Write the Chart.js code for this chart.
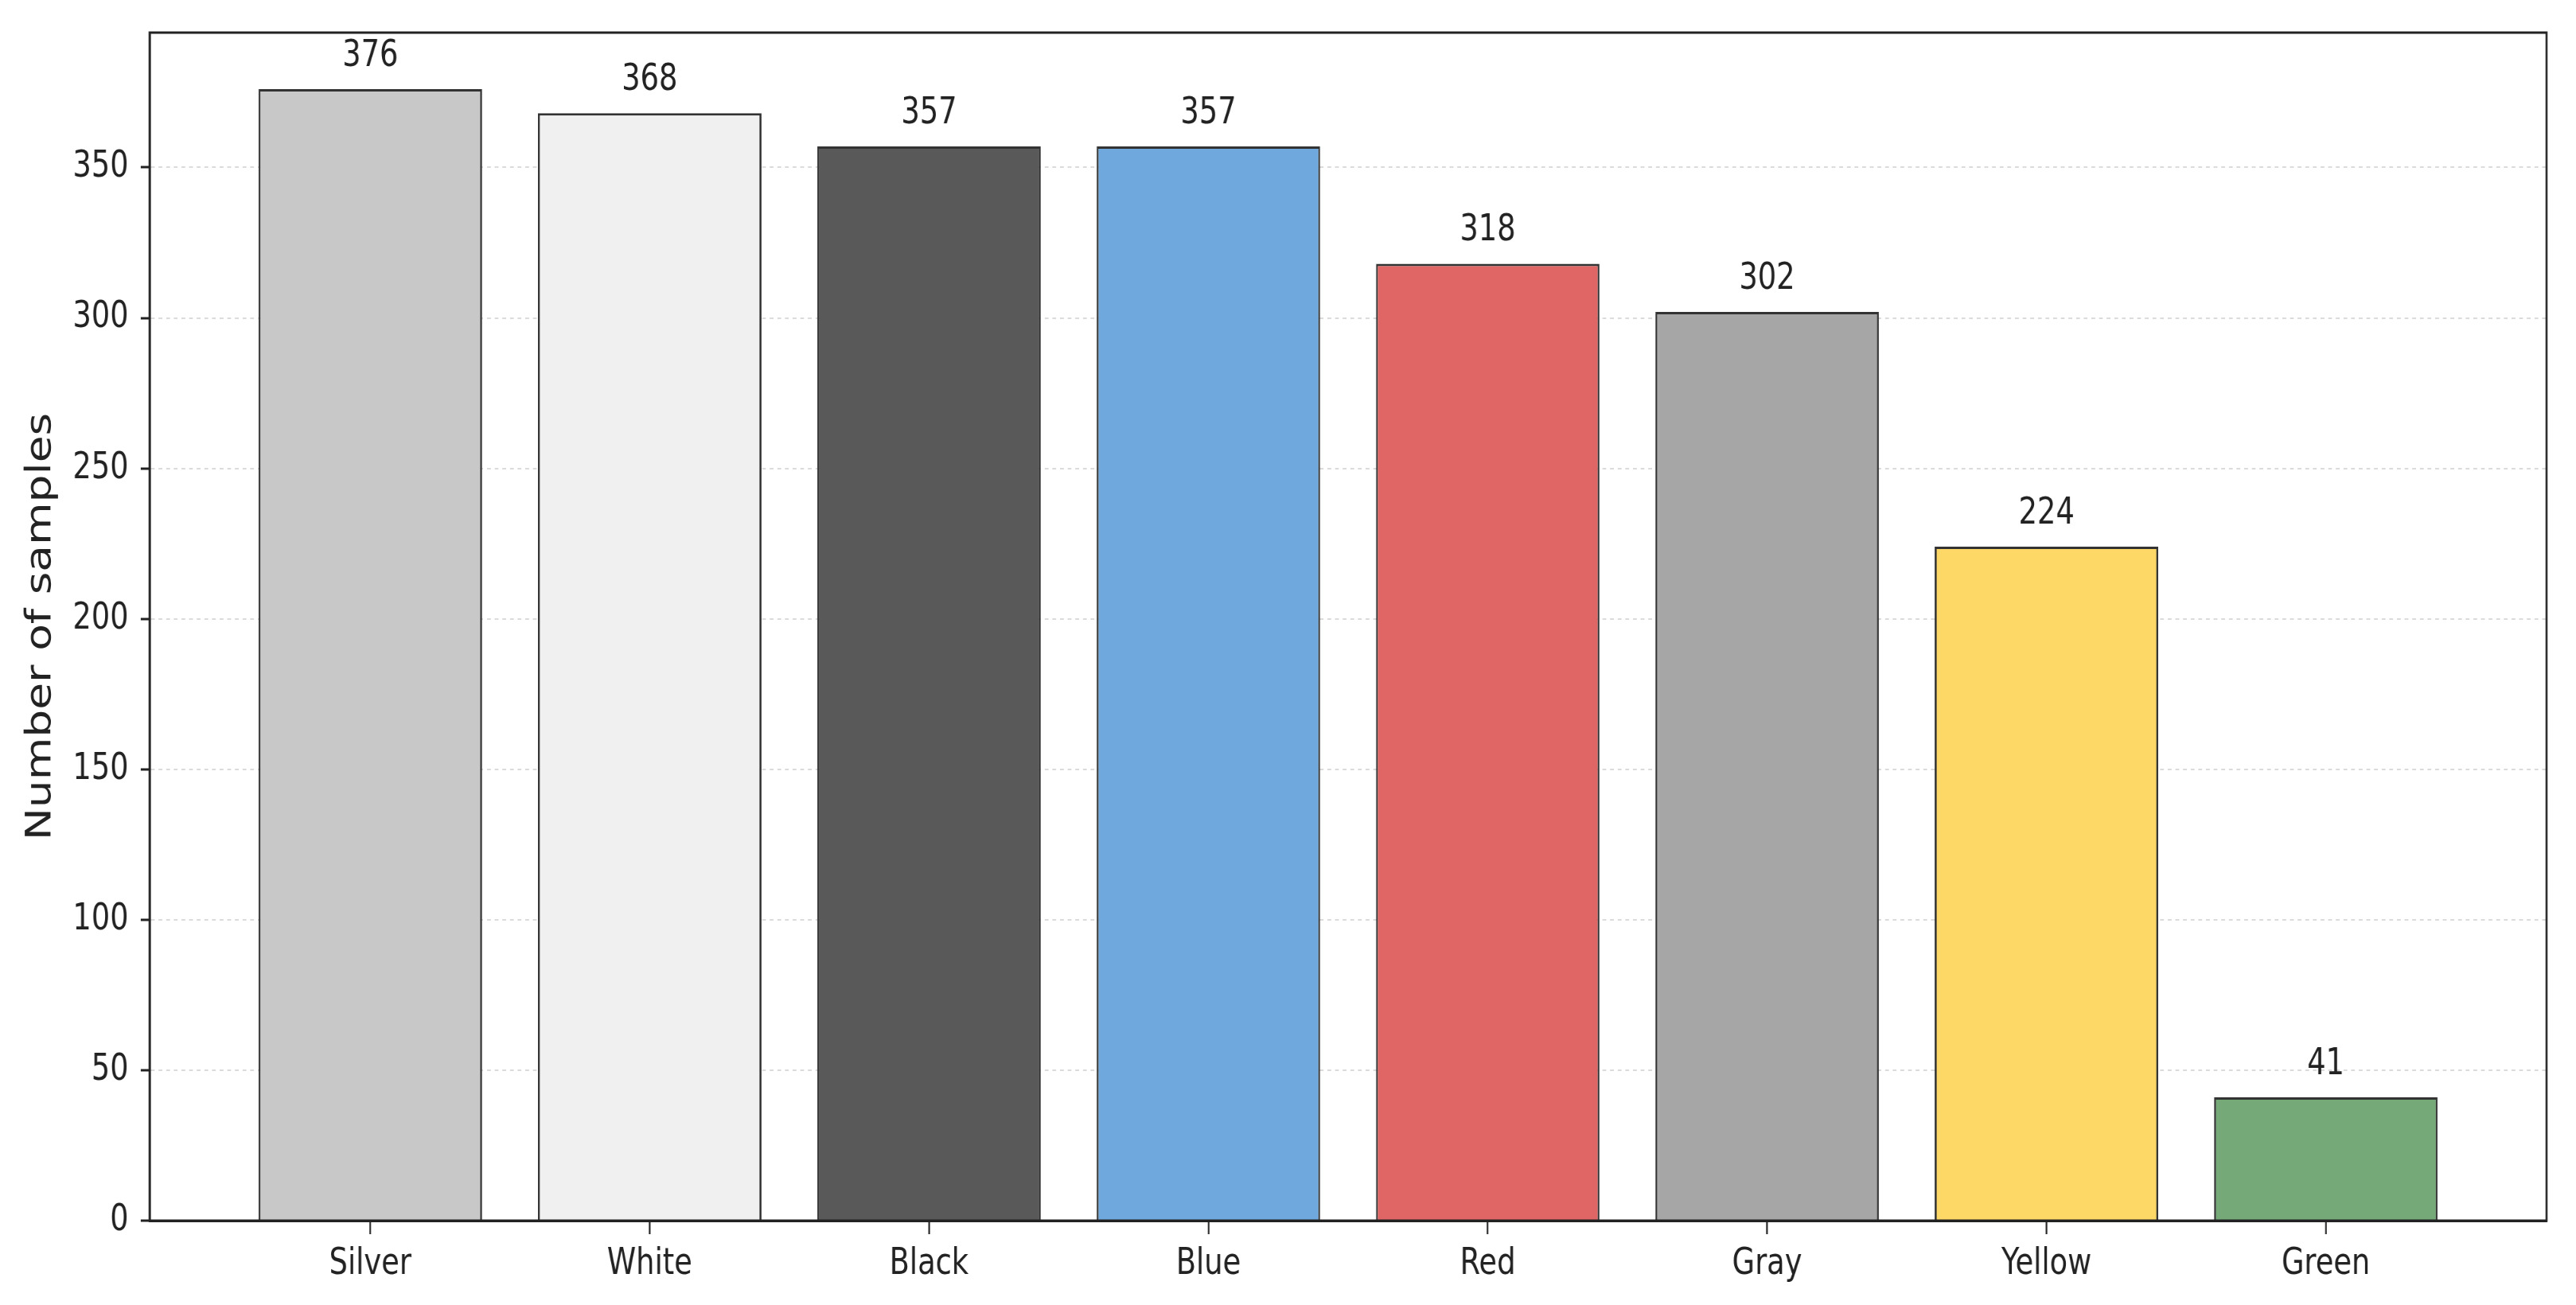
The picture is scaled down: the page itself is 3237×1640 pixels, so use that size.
<!DOCTYPE html>
<html>
<head>
<meta charset="utf-8">
<script src="https://cdn.jsdelivr.net/npm/chart.js@4.4.0/dist/chart.umd.min.js"></script>
<style>
    html, body { margin: 0; padding: 0; background: #fff; overflow: hidden; }
    #wrap { width: 4046px; height: 1640px; transform: scaleX(0.8); transform-origin: 0 0; }
</style>
</head>
<body>
<div id="wrap"><canvas id="myBarChart" width="4046" height="1640"></canvas></div>
<script>
var colorNames = ['Silver', 'White', 'Black', 'Blue', 'Red', 'Gray', 'Yellow', 'Green'];
var sampleCounts = [376, 368, 357, 357, 318, 302, 224, 41];
var barColors = ['#c8c8c8', '#f0f0f0', '#595959', '#6fa8dc', '#e06666', '#a6a6a6', '#fdd867', '#75a978'];
var yTicks = [0, 50, 100, 150, 200, 250, 300, 350];
var yMax = 394.8;

var FONT = 'DejaVu Sans';
var INK = '#222';

// box round the plot area, like the reference
var framePlugin = {
    id: 'frame',
    afterDraw: function (chart) {
        var a = chart.chartArea, ctx = chart.ctx;
        ctx.save();
        ctx.strokeStyle = INK;
        ctx.lineWidth = 3;
        ctx.strokeRect(a.left, a.top, a.right - a.left, a.bottom - a.top);
        ctx.restore();
    }
};

// numbers above bars
var valueLabels = {
    id: 'valueLabels',
    afterDatasetsDraw: function (chart) {
        var ctx = chart.ctx,
            meta = chart.getDatasetMeta(0);
        ctx.save();
        ctx.font = '46px "' + FONT + '"';
        ctx.fillStyle = INK;
        ctx.textAlign = 'center';
        ctx.textBaseline = 'alphabetic';
        meta.data.forEach(function (bar, i) {
            ctx.fillText(String(sampleCounts[i]), bar.x, bar.y - 29);
        });
        ctx.restore();
    }
};

var createBar = function () {
    var points = sampleCounts.map(function (v, i) {
        return { x: i, y: v };
    });

    return new Chart(document.getElementById('myBarChart').getContext('2d'), {
        type: 'bar',
        data: {
            datasets: [{
                data: points,
                backgroundColor: barColors,
                borderColor: '#333',
                borderWidth: 3,
                borderSkipped: 'start',
                categoryPercentage: 1,
                barPercentage: 0.8
            }]
        },
        options: {
            responsive: false,
            animation: false,
            devicePixelRatio: 1,
            layout: { padding: { top: 41, right: 46, left: 0, bottom: 0 } },
            plugins: {
                legend: { display: false },
                tooltip: { enabled: false }
            },
            scales: {
                x: {
                    type: 'linear',
                    min: -0.79,
                    max: 7.79,
                    offset: false,
                    afterBuildTicks: function (axis) {
                        axis.ticks = colorNames.map(function (_, i) { return { value: i }; });
                    },
                    afterFit: function (scale) {
                        scale.height = 106;
                        scale.paddingLeft = 0;
                        scale.paddingRight = 0;
                    },
                    ticks: {
                        autoSkip: false,
                        maxRotation: 0,
                        padding: 10,
                        color: INK,
                        font: { family: FONT, size: 46 },
                        callback: function (value) { return colorNames[value]; }
                    },
                    grid: {
                        offset: false,
                        drawOnChartArea: false,
                        tickLength: 17,
                        tickColor: INK,
                        tickWidth: 2.5
                    },
                    border: { color: INK, width: 3 }
                },
                y: {
                    min: 0,
                    max: yMax,
                    z: 1,
                    afterBuildTicks: function (axis) {
                        axis.ticks = yTicks.map(function (v) { return { value: v }; });
                    },
                    afterFit: function (scale) {
                        scale.width = 235;
                        scale.paddingTop = 0;
                        scale.paddingBottom = 0;
                    },
                    title: {
                        display: true,
                        text: 'Number of samples',
                        color: INK,
                        font: { family: FONT, size: 55 },
                        padding: { top: 32, bottom: 0 }
                    },
                    ticks: {
                        padding: 19,
                        color: INK,
                        font: { family: FONT, size: 46 }
                    },
                    grid: {
                        color: function (ctx) {
                            return ctx.tick && ctx.tick.value === 0 ? 'rgba(0,0,0,0)' : 'rgba(0,0,0,0.14)';
                        },
                        lineWidth: 2,
                        tickLength: 14,
                        tickColor: INK,
                        tickWidth: 3
                    },
                    border: { color: INK, width: 3, dash: [6, 6] }
                }
            }
        },
        plugins: [valueLabels, framePlugin]
    });
};

createBar();
</script>
</body>
</html>
